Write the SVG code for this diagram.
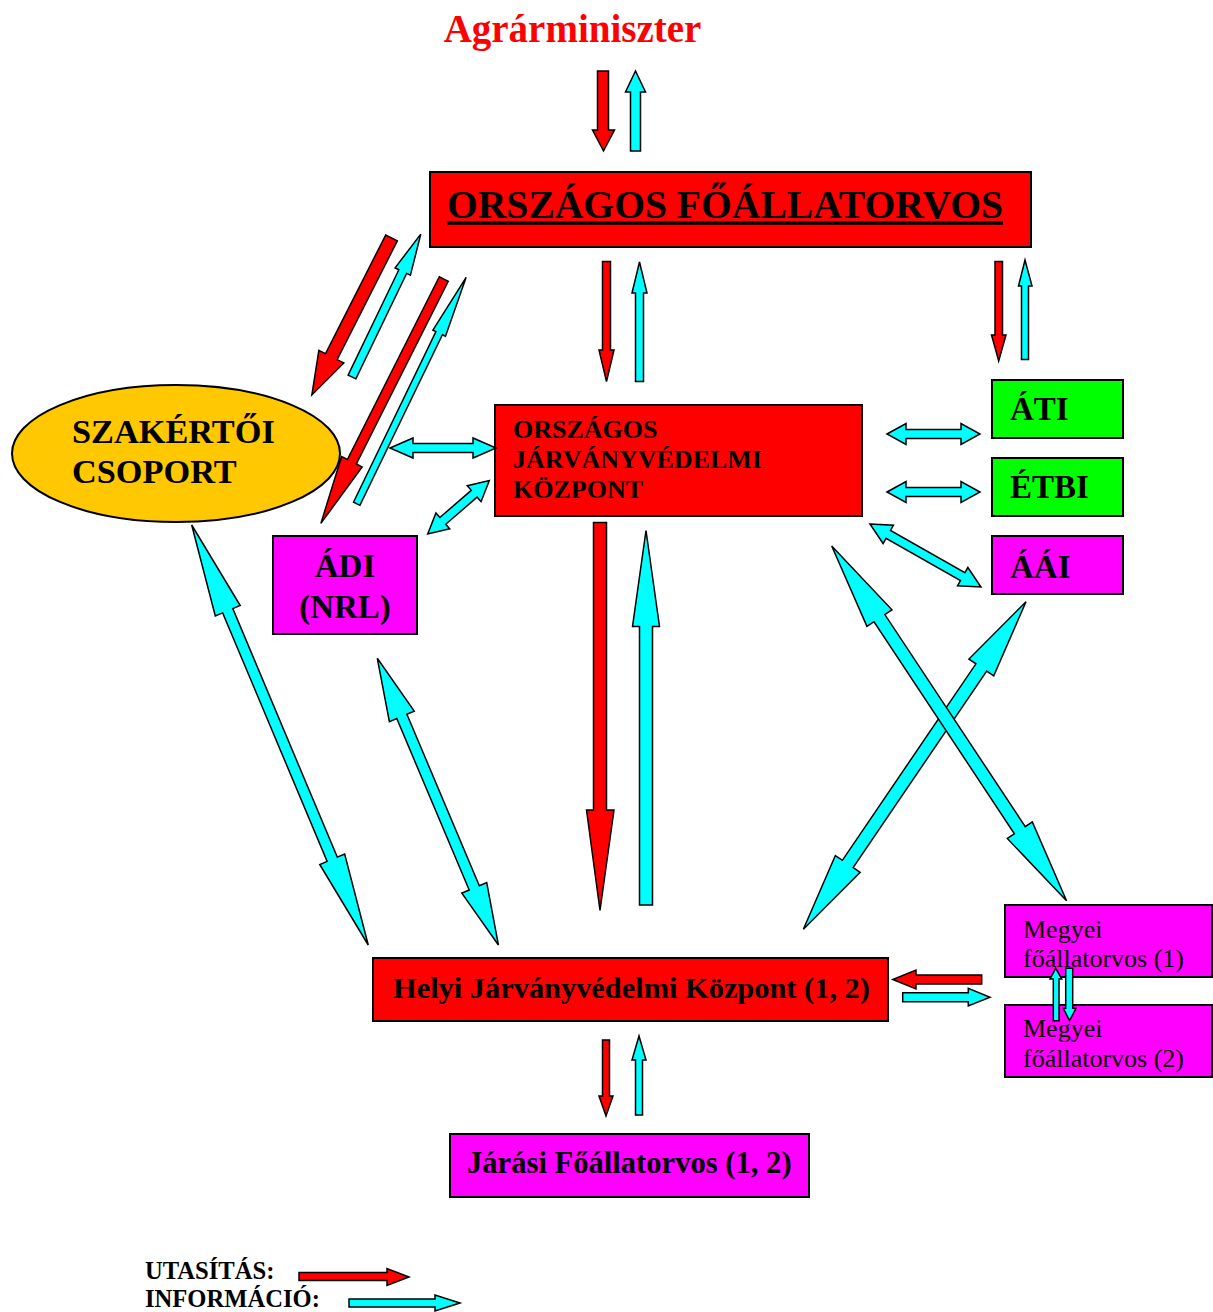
<svg xmlns="http://www.w3.org/2000/svg" width="1213" height="1312" viewBox="0 0 1213 1312">
<style>
text{font-family:"Liberation Serif","Times New Roman",serif;fill:#000}
.b{font-weight:bold}
.box{stroke:#000;stroke-width:2}
.red{fill:#FF0000}
.mag{fill:#FF00FF}
.grn{fill:#00FF00}
.ar{stroke:#000;stroke-width:1.5;stroke-linejoin:miter}
.ar.r{fill:#FF0000}
.ar.c{fill:#00FFFF}
</style>
<rect width="1213" height="1312" fill="#fff"/>

<g id="agrarminiszter">
<text x="572.5" y="42" text-anchor="middle" class="b" font-size="39" style="fill:#FF0000">Agrárminiszter</text>
</g>

<g id="orszagos-foallatorvos">
<rect x="430" y="172" width="601" height="75" class="box red"/>
<text x="447" y="218" class="b" font-size="39.6">ORSZÁGOS FŐÁLLATORVOS</text>
<line x1="447" y1="223" x2="1003" y2="223" stroke="#000" stroke-width="3.5"/>
</g>

<g id="szakertoi-csoport">
<ellipse cx="176" cy="453.5" rx="164" ry="68.5" fill="#FFC800" stroke="#000" stroke-width="2"/>
<text x="72" y="443" class="b" font-size="34.3">SZAKÉRTŐI</text>
<text x="72" y="483" class="b" font-size="34.3">CSOPORT</text>
</g>

<g id="orszagos-jarvanyvedelmi-kozpont">
<rect x="495" y="405" width="367" height="111" class="box red"/>
<text x="513" y="438" class="b" font-size="26">ORSZÁGOS</text>
<text x="513" y="468" class="b" font-size="26">JÁRVÁNYVÉDELMI</text>
<text x="513" y="498" class="b" font-size="26">KÖZPONT</text>
</g>

<g id="adi-nrl">
<rect x="273" y="536" width="144" height="98" class="box mag"/>
<text x="345" y="577" text-anchor="middle" class="b" font-size="33">ÁDI</text>
<text x="345" y="618" text-anchor="middle" class="b" font-size="33">(NRL)</text>
</g>

<g id="ati">
<rect x="992" y="380" width="131" height="58" class="box grn"/>
<text x="1010" y="420" class="b" font-size="33">ÁTI</text>
</g>

<g id="etbi">
<rect x="992" y="458" width="131" height="58" class="box grn"/>
<text x="1010" y="498" class="b" font-size="33">ÉTBI</text>
</g>

<g id="aai">
<rect x="992" y="536" width="131" height="58" class="box mag"/>
<text x="1010" y="578" class="b" font-size="33">ÁÁI</text>
</g>

<g id="helyi-jarvanyvedelmi-kozpont">
<rect x="373" y="958" width="515" height="63" class="box red"/>
<text x="393" y="998" class="b" font-size="30.4">Helyi Járványvédelmi Központ (1, 2)</text>
</g>

<g id="jarasi-foallatorvos">
<rect x="450" y="1134" width="359" height="63" class="box mag"/>
<text x="467" y="1173" class="b" font-size="30.6">Járási Főállatorvos (1, 2)</text>
</g>

<g id="megyei-1">
<rect x="1005" y="905" width="207" height="72" class="box mag"/>
<text x="1023" y="938" font-size="26">Megyei</text>
<text x="1023" y="967" font-size="26">főállatorvos (1)</text>
</g>

<g id="megyei-2">
<rect x="1005" y="1005" width="207" height="72" class="box mag"/>
<text x="1023" y="1037" font-size="26">Megyei</text>
<text x="1023" y="1067" font-size="26">főállatorvos (2)</text>
</g>

<g id="connectors">
<polygon class="ar r" points="597.5,71 608.5,71 608.5,130 614.5,130 603.5,151 592.5,130 597.5,130"/>
<polygon class="ar c" points="630.5,151 630.5,92 625.5,92 635.5,71 645.5,92 640.5,92 640.5,151"/>
<polygon class="ar r" points="602.5,261.5 610.5,261.5 610.5,350 614,350 606.5,381.5 599,350 602.5,350"/>
<polygon class="ar c" points="635.5,381.5 635.5,293 632,293 639.5,262 647,293 643.5,293 643.5,381.5"/>
<polygon class="ar r" points="995,261.5 1002.5,261.5 1002.5,335 1006,335 998.7,361 991.5,335 995,335"/>
<polygon class="ar c" points="1021.5,359.5 1021.5,286 1018.5,286 1025,260 1032,286 1028.5,286 1028.5,359.5"/>
<polygon class="ar r" transform="translate(391.5,238) rotate(116.9)" points="0,-6.5 133,-6.5 133,-14 176,0 133,14 133,6.5 0,6.5"/>
<polygon class="ar c" transform="translate(352,377) rotate(-64.3)" points="0,-4.3 117,-4.3 117,-8.5 158.6,0 117,8.5 117,4.3 0,4.3"/>
<polygon class="ar r" transform="translate(443.8,279) rotate(116.7)" points="0,-5 204.6,-5 204.6,-11.5 273.6,0 204.6,11.5 204.6,5 0,5"/>
<polygon class="ar c" transform="translate(356.7,503.8) rotate(-64.2)" points="0,-3.6 189.5,-3.6 189.5,-7 251.5,0 189.5,7 189.5,3.6 0,3.6"/>
<polygon class="ar c" points="390,448 413,438 413,443.5 473,443.5 473,438 496,448 473,458 473,452.5 413,452.5 413,458"/>
<polygon class="ar c" points="887,434 906,423.5 906,429.5 961,429.5 961,423.5 980,434 961,444.5 961,438.5 906,438.5 906,444.5"/>
<polygon class="ar c" points="887,492 906,481.5 906,487.5 961,487.5 961,481.5 980,492 961,502.5 961,496.5 906,496.5 906,502.5"/>
<polygon class="ar c" transform="translate(427.7,534) rotate(-40.9)" points="0,0 20,-10.5 20,-4.5 61.5,-4.5 61.5,-10.5 81.5,0 61.5,10.5 61.5,4.5 20,4.5 20,10.5"/>
<polygon class="ar c" transform="translate(870,524) rotate(29.6)" points="0,0 21,-10.5 21,-4.5 106.6,-4.5 106.6,-10.5 127.6,0 106.6,10.5 106.6,4.5 21,4.5 21,10.5"/>
<polygon class="ar r" points="593.5,522.5 606.5,522.5 606.5,810 614,810 600,910.5 586.5,810 593.5,810"/>
<polygon class="ar c" points="639.5,905 639.5,626.5 632.5,626.5 646,530.5 659.5,626.5 652.5,626.5 652.5,905"/>
<polygon class="ar c" transform="translate(191.7,525) rotate(67.2)" points="0,0 93,-13.5 93,-5.5 362.6,-5.5 362.6,-13.5 455.6,0 362.6,13.5 362.6,5.5 93,5.5 93,13.5"/>
<polygon class="ar c" transform="translate(377.3,658.3) rotate(67.1)" points="0,0 63,-13.5 63,-5.5 249.2,-5.5 249.2,-13.5 311.2,0 249.2,13.5 249.2,5.5 63,5.5 63,13.5"/>
<polygon class="ar c" transform="translate(1026,601.7) rotate(124.2)" points="0,0 79.5,-15 79.5,-6.5 317.1,-6.5 317.1,-15 396.1,0 317.1,15 317.1,6.5 79.5,6.5 79.5,15"/>
<polygon class="ar c" transform="translate(831.7,546) rotate(56.5)" points="0,0 86.5,-15 86.5,-6.5 340.8,-6.5 340.8,-15 425.5,0 340.8,15 340.8,6.5 86.5,6.5 86.5,15"/>
<polygon class="ar r" points="602.5,1040 609.5,1040 609.5,1096 613,1096 606,1116 599,1096 602.5,1096"/>
<polygon class="ar c" points="635.5,1115 635.5,1060 632,1060 639,1036 646,1060 642.5,1060 642.5,1115"/>
<polygon class="ar r" points="981.7,975 916,975 916,970 892.7,979.5 916,989 916,984 981.7,984"/>
<polygon class="ar c" points="902.7,992.7 968.3,992.7 968.3,988.3 990,997.2 968.3,1006 968.3,1001.7 902.7,1001.7"/>
<polygon class="ar c" points="1053.3,1020.7 1053.3,979 1050,979 1055.7,968.3 1061.7,979 1059,979 1059,1020.7"/>
<polygon class="ar c" points="1065.7,968.3 1072.7,968.3 1072.7,1008.3 1076,1008.3 1069.5,1020.7 1063.3,1008.3 1065.7,1008.3"/>
</g>

<g id="legend">
<text x="145" y="1279" class="b" font-size="24.6">UTASÍTÁS:</text>
<text x="145" y="1306.5" class="b" font-size="24.6">INFORMÁCIÓ:</text>
<polygon class="ar r" points="299,1272.5 387,1272.5 387,1268.5 409,1277 387,1285.5 387,1280.5 299,1280.5"/>
<polygon class="ar c" points="349,1299 435,1299 435,1295 460,1303 435,1311 435,1307 349,1307"/>
</g>
</svg>
